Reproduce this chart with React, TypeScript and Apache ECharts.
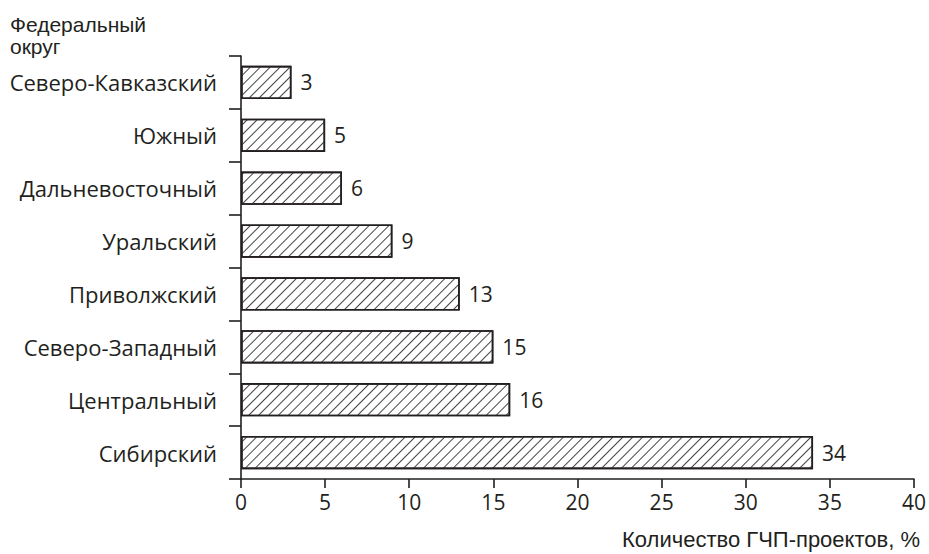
import React, { useEffect, useRef } from "react";
import * as echarts from "echarts";

const categories = [
  "Сибирский",
  "Центральный",
  "Северо-Западный",
  "Приволжский",
  "Уральский",
  "Дальневосточный",
  "Южный",
  "Северо-Кавказский",
];
const values = [34, 16, 15, 13, 9, 6, 5, 3];
const xTicks = { min: 0, max: 40, interval: 5 };
const yAxisTitle = ["Федеральный", "округ"];
const xAxisTitle = "Количество ГЧП-проектов, %";

const INK = "#231f20";

export default function App() {
  const ref = useRef<HTMLDivElement>(null);
  useEffect(() => {
    if (!ref.current) return;
    const chart = echarts.init(ref.current, undefined, { renderer: "svg" });
    chart.setOption({
      animation: false,
      backgroundColor: "#ffffff",
      grid: { left: 241, right: 13.4, top: 56, bottom: 75 },
      xAxis: {
        type: "value",
        min: xTicks.min,
        max: xTicks.max,
        interval: xTicks.interval,
        splitLine: { show: false },
        axisLine: { show: true, lineStyle: { color: INK, width: 1.6 } },
        axisTick: { show: true, length: 9, lineStyle: { color: INK, width: 1.6 } },
        axisLabel: {
          margin: 12,
          color: INK,
          fontFamily: "Open Sans",
          fontSize: 21,
        },
      },
      yAxis: {
        type: "category",
        data: categories,
        axisLine: { show: true, lineStyle: { color: INK, width: 1.6 } },
        axisTick: { show: true, length: 12, lineStyle: { color: INK, width: 1.6 } },
        axisLabel: {
          margin: 24,
          color: INK,
          fontFamily: "Open Sans",
          fontSize: 22,
        },
      },
      series: [
        {
          type: "bar",
          data: values,
          barCategoryGap: "37%",
          itemStyle: {
            color: "#ffffff",
            borderColor: INK,
            borderWidth: 1.6,
            decal: {
              symbol: "rect",
              symbolSize: 1,
              dashArrayX: [1, 0],
              dashArrayY: [1, 5.4],
              rotation: -Math.PI / 4,
              color: "#444",
              backgroundColor: "#ffffff",
            },
          },
          label: {
            show: true,
            position: "right",
            distance: 9,
            color: INK,
            fontFamily: "Open Sans",
            fontSize: 21,
          },
        },
      ],
      graphic: [
        {
          type: "text",
          left: 10,
          top: 13,
          style: {
            text: yAxisTitle.join("\n"),
            fill: INK,
            font: '21px "Liberation Sans"',
            lineHeight: 22,
          },
        },
        {
          type: "text",
          right: 9,
          top: 528,
          style: {
            text: xAxisTitle,
            fill: INK,
            font: '22px "Liberation Sans"',
          },
        },
      ],
    });
    return () => chart.dispose();
  }, []);
  return (
    <div
      ref={ref}
      style={{ position: "fixed", left: 0, top: 0, width: 929, height: 554 }}
    />
  );
}
